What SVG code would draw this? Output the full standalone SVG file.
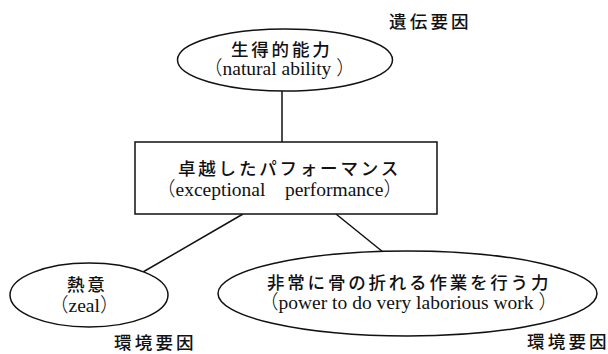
<svg xmlns="http://www.w3.org/2000/svg" width="608" height="354" viewBox="0 0 608 354">
<style>
.shape{fill:#fff;stroke:#111;stroke-width:1.5}
.conn line{stroke:#111;stroke-width:1.5}
.jp{font-family:"Noto Sans CJK JP","Noto Sans",sans-serif;font-size:17.5px;font-weight:500;letter-spacing:2.8px;fill:#111}
.en{font-family:"Liberation Serif","Times New Roman",serif;font-size:19.5px;fill:#111}
.p{font-family:"Noto Sans CJK JP",sans-serif;font-weight:300}
.lab{font-family:"Noto Sans CJK JP","Noto Sans",sans-serif;font-size:17.5px;font-weight:500;letter-spacing:3.2px;fill:#111}
</style>
<rect width="608" height="354" fill="#fff"/>
<g id="connectors" class="conn">
<line x1="282" y1="91" x2="282" y2="142"/>
<line x1="243" y1="214" x2="143" y2="272"/>
<line x1="336" y1="214" x2="383" y2="252"/>
</g>
<g id="natural-ability">
<ellipse class="shape" cx="285" cy="60" rx="107.5" ry="31"/>
<text class="jp" x="231" y="56">生得的能力</text>
<text class="en" x="203" y="75"><tspan class="p">（</tspan>natural ability <tspan class="p">）</tspan></text>
</g>
<g id="performance">
<rect class="shape" x="135" y="142" width="302" height="72"/>
<text class="jp" x="178" y="175" letter-spacing="2.3">卓越したパフォーマンス</text>
<text class="en" x="156" y="196"><tspan class="p">（</tspan>exceptional<tspan class="p">　</tspan>performance<tspan class="p">）</tspan></text>
</g>
<g id="zeal">
<ellipse class="shape" cx="89" cy="295" rx="79" ry="32"/>
<text class="jp" x="67" y="291">熱意</text>
<text class="en" x="49" y="312"><tspan class="p">（</tspan>zeal<tspan class="p">）</tspan></text>
</g>
<g id="laborious-work">
<ellipse class="shape" cx="407.5" cy="293.5" rx="189.5" ry="42.5"/>
<text class="jp" x="267" y="289">非常に骨の折れる作業を行う力</text>
<text class="en" x="259" y="309"><tspan class="p">（</tspan>power to do very laborious work <tspan class="p">）</tspan></text>
</g>
<g id="labels">
<text class="lab" x="389" y="28">遺伝要因</text>
<text class="lab" x="114" y="349">環境要因</text>
<text class="lab" x="527" y="348" letter-spacing="1px">環境要因</text>
</g>
</svg>
